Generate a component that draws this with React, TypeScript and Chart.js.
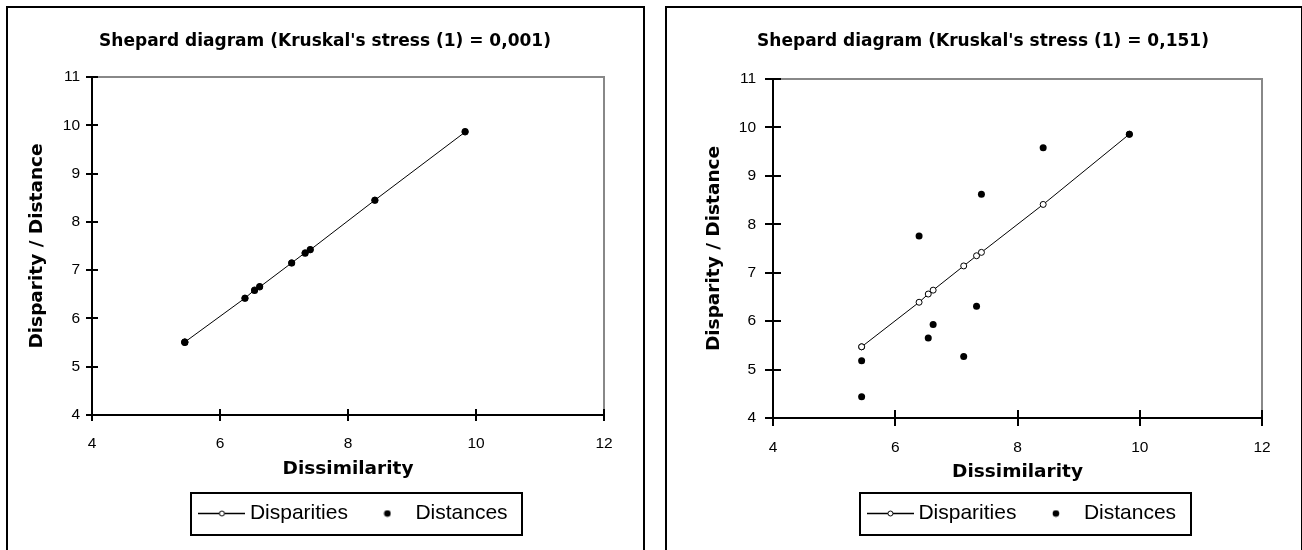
import React, { useEffect, useRef } from "react";
import { Chart, registerables } from "chart.js";

Chart.register(...registerables);

// ---- data ----
const dissimilarity = [5.45, 5.45, 6.39, 6.54, 6.62, 7.12, 7.33, 7.41, 8.42, 9.83];
const leftDisparities = [5.51, 5.51, 6.42, 6.59, 6.65, 7.15, 7.36, 7.42, 8.45, 9.86];
const leftDistances = [5.5, 5.51, 6.42, 6.58, 6.66, 7.15, 7.35, 7.43, 8.45, 9.87];
const rightDisparities = [5.47, 5.47, 6.39, 6.56, 6.64, 7.14, 7.35, 7.42, 8.41, 9.86];
const rightDistances = [5.18, 4.44, 7.76, 5.65, 5.93, 5.27, 6.31, 8.62, 9.58, 9.86];
const leftTitle = "Shepard diagram (Kruskal's stress (1) = 0,001)";
const rightTitle = "Shepard diagram (Kruskal's stress (1) = 0,151)";
const xTicks = [4, 6, 8, 10, 12];
const yTicks = [4, 5, 6, 7, 8, 9, 10, 11];
const seriesNames = ["Disparities", "Distances"];
const xTitle = "Dissimilarity";
const yTitle = "Disparity / Distance";

type Layout = {
  canvasW: number;
  canvasH: number;
  yScaleW: number;
  xScaleH: number;
  padRight: number;
  padBottom: number;
  titlePadTop: number;
  titlePadBottom: number;
  yTitlePadTop: number;
  xTitlePadBottom: number;
  tickLen: number;
  yTickPad: number;
  xTickPad: number;
  titleDx: number;
  legendDx: number;
};

const leftLayout: Layout = {
  canvasW: 635, canvasH: 542, yScaleW: 84, xScaleH: 66, padRight: 39, padBottom: 16,
  titlePadTop: 23.8, titlePadBottom: 24.8, yTitlePadTop: 18.4, xTitlePadBottom: 0.9,
  tickLen: 6, yTickPad: 6, xTickPad: 13, titleDx: 19, legendDx: 8,
};
const rightLayout: Layout = {
  canvasW: 634, canvasH: 542, yScaleW: 106, xScaleH: 63, padRight: 39, padBottom: 16,
  titlePadTop: 23.8, titlePadBottom: 26.8, yTitlePadTop: 35.9, xTitlePadBottom: -2.1,
  tickLen: 8, yTickPad: 9, xTickPad: 12, titleDx: 18.5, legendDx: 7,
};

function makeLineMarker(): HTMLCanvasElement {
  const c = document.createElement("canvas");
  c.width = 47;
  c.height = 9;
  const g = c.getContext("2d")!;
  g.strokeStyle = "#000";
  g.lineWidth = 1.3;
  g.beginPath();
  g.moveTo(0, 4.5);
  g.lineTo(47, 4.5);
  g.stroke();
  g.lineWidth = 1;
  g.beginPath();
  g.arc(23.5, 4.5, 2.5, 0, Math.PI * 2);
  g.fillStyle = "#fff";
  g.fill();
  g.stroke();
  return c;
}
function makeDotMarker(): HTMLCanvasElement {
  const c = document.createElement("canvas");
  c.width = 8;
  c.height = 8;
  const g = c.getContext("2d")!;
  g.fillStyle = "#000";
  g.beginPath();
  g.arc(4, 4, 3.3, 0, Math.PI * 2);
  g.fill();
  return c;
}

function Panel({ title, disp, dist, L }: { title: string; disp: number[]; dist: number[]; L: Layout }) {
  const ref = useRef<HTMLCanvasElement | null>(null);
  useEffect(() => {
    if (!ref.current) return;
    const markers = [makeLineMarker(), makeDotMarker()];
    const framePlugin = {
      id: "frame",
      afterLayout(chart: any) {
        if (chart.titleBlock) {
          chart.titleBlock.left += L.titleDx;
          chart.titleBlock.right += L.titleDx;
        }
        if (chart.legend) {
          chart.legend.left += L.legendDx;
          chart.legend.right += L.legendDx;
        }
      },
      afterDraw(chart: any) {
        const ctx = chart.ctx as CanvasRenderingContext2D;
        const a = chart.chartArea;
        ctx.save();
        // grey top/right frame
        ctx.strokeStyle = "#888";
        ctx.lineWidth = 2;
        ctx.beginPath();
        ctx.moveTo(a.left, a.top);
        ctx.lineTo(a.right, a.top);
        ctx.lineTo(a.right, a.bottom);
        ctx.stroke();
        // inner tick halves
        ctx.strokeStyle = "#000";
        ctx.lineWidth = 2;
        ctx.beginPath();
        const xs = chart.scales.x;
        const ys = chart.scales.y;
        xs.ticks.forEach((_: any, i: number) => {
          const px = Math.round(xs.getPixelForTick(i));
          ctx.moveTo(px, a.bottom);
          ctx.lineTo(px, a.bottom - L.tickLen);
        });
        ys.ticks.forEach((_: any, i: number) => {
          const py = Math.round(ys.getPixelForTick(i));
          ctx.moveTo(a.left, py);
          ctx.lineTo(a.left + L.tickLen, py);
        });
        ctx.stroke();
        // legend border
        const hb = chart.legend?.legendHitBoxes || [];
        if (hb.length) {
          let l = Infinity, r = -Infinity, t = Infinity, b = -Infinity;
          hb.forEach((h: any) => {
            l = Math.min(l, h.left);
            r = Math.max(r, h.left + h.width);
            t = Math.min(t, h.top);
            b = Math.max(b, h.top + h.height);
          });
          ctx.lineWidth = 2;
          ctx.strokeStyle = "#000";
          ctx.strokeRect(Math.round(l - 13), Math.round(t - 10), Math.round(r - l + 28), Math.round(b - t + 21));
        }
        ctx.restore();
      },
    };

    const chart = new Chart(ref.current, {
      type: "scatter",
      data: {
        datasets: [
          {
            label: seriesNames[0],
            data: dissimilarity.map((x, i) => ({ x, y: disp[i] })),
            showLine: true,
            borderColor: "#000",
            borderWidth: 1,
            pointRadius: 3,
            pointBackgroundColor: "#fff",
            pointBorderColor: "#000",
            pointBorderWidth: 1,
            order: 1,
          },
          {
            label: seriesNames[1],
            data: dissimilarity.map((x, i) => ({ x, y: dist[i] })),
            showLine: false,
            borderColor: "#000",
            backgroundColor: "#000",
            pointRadius: 3.5,
            pointBackgroundColor: "#000",
            pointBorderWidth: 0,
            order: 0,
          },
        ],
      },
      options: {
        responsive: false,
        animation: false,
        layout: { padding: { left: 0, right: L.padRight, top: 0, bottom: L.padBottom } },
        plugins: {
          tooltip: { enabled: false },
          title: {
            display: true,
            text: title,
            color: "#000",
            font: { family: "DejaVu Sans", weight: "bold", size: 17 },
            padding: { top: L.titlePadTop, bottom: L.titlePadBottom },
          },
          legend: {
            display: true,
            position: "bottom",
            fullSize: false,
            labels: {
              color: "#000",
              font: { family: "Liberation Sans", size: 21 },
              usePointStyle: true,
              pointStyleWidth: 35,
              padding: 22,
              sort: (a: any, b: any) => a.datasetIndex - b.datasetIndex,
              generateLabels: (chart: any) => {
                const items = Chart.defaults.plugins.legend.labels.generateLabels(chart);
                return items.map((it: any) => ({ ...it, pointStyle: markers[it.datasetIndex] }));
              },
            },
          },
        },
        scales: {
          x: {
            type: "linear",
            position: "bottom",
            min: xTicks[0],
            max: xTicks[xTicks.length - 1],
            afterBuildTicks: (s: any) => {
              s.ticks = xTicks.map((v) => ({ value: v }));
            },
            afterFit: (s: any) => {
              s.height = L.xScaleH;
            },
            grid: { drawOnChartArea: false, drawTicks: true, tickLength: L.tickLen, color: "#000", lineWidth: 2 },
            border: { display: true, color: "#000", width: 2 },
            ticks: {
              color: "#000",
              padding: L.xTickPad,
              maxRotation: 0,
              autoSkip: false,
              font: { family: "Liberation Sans", size: 15.5 },
            },
            title: {
              display: true,
              text: xTitle,
              color: "#000",
              font: { family: "DejaVu Sans", weight: "bold", size: 18.5 },
              padding: { top: 0, bottom: L.xTitlePadBottom },
            },
          },
          y: {
            type: "linear",
            position: "left",
            min: yTicks[0],
            max: yTicks[yTicks.length - 1],
            afterBuildTicks: (s: any) => {
              s.ticks = yTicks.map((v) => ({ value: v }));
            },
            afterFit: (s: any) => {
              s.width = L.yScaleW;
            },
            grid: { drawOnChartArea: false, drawTicks: true, tickLength: L.tickLen, color: "#000", lineWidth: 2 },
            border: { display: true, color: "#000", width: 2 },
            ticks: {
              color: "#000",
              padding: L.yTickPad,
              autoSkip: false,
              font: { family: "Liberation Sans", size: 15.5 },
            },
            title: {
              display: true,
              text: yTitle,
              color: "#000",
              font: { family: "DejaVu Sans", weight: "bold", size: 18.5 },
              padding: { top: L.yTitlePadTop, bottom: 0 },
            },
          },
        },
      } as any,
      plugins: [framePlugin],
    });
    return () => chart.destroy();
  }, [title, disp, dist, L]);
  return (
    <canvas
      ref={ref}
      width={L.canvasW}
      height={L.canvasH}
      style={{ position: "absolute", left: 0, top: 0, width: L.canvasW, height: L.canvasH }}
    />
  );
}

export default function App() {
  return (
    <div style={{ position: "absolute", left: 0, top: 0, width: 1302, height: 550, overflow: "hidden", background: "#fff" }}>
      <div
        style={{
          position: "absolute", left: 6, top: 6, width: 639, height: 600,
          border: "2px solid #000", boxSizing: "border-box", overflow: "hidden",
        }}
      >
        <Panel title={leftTitle} disp={leftDisparities} dist={leftDistances} L={leftLayout} />
      </div>
      <div
        style={{
          position: "absolute", left: 665, top: 6, width: 638, height: 600,
          border: "2px solid #000", boxSizing: "border-box", overflow: "hidden",
        }}
      >
        <Panel title={rightTitle} disp={rightDisparities} dist={rightDistances} L={rightLayout} />
      </div>
    </div>
  );
}
